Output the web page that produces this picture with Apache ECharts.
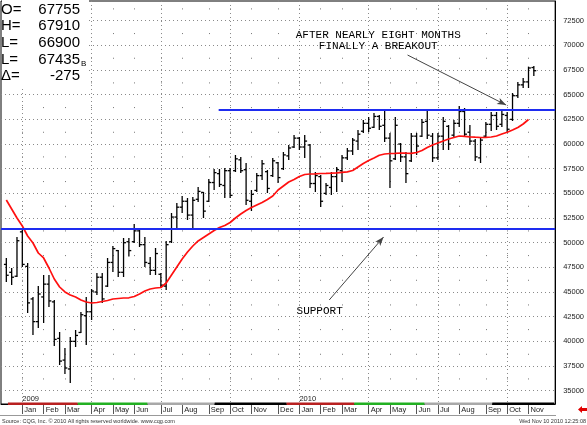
<!DOCTYPE html>
<html><head><meta charset="utf-8">
<script src="https://cdn.jsdelivr.net/npm/echarts@6/dist/echarts.min.js"></script>
<style>html,body{margin:0;padding:0;background:#fff}#c{width:587px;height:425px}</style>
</head><body><div id="c"></div>
<script>
// ---- data (weekly bars, first week starts Monday 2008-12-15) ----
const firstWeek = [2008, 11, 15];
const opens = [47800,47000,46600,51100,47600,44300,42000,44500,45800,44000,
 40300,38100,37200,40000,40900,42600,43000,45000,46500,45600,
 48000,49200,47000,50100,50100,51200,49800,47900,47200,46800,
 45600,50100,52600,53600,54200,52800,54400,55100,54200,56100,
 57000,55800,57300,57300,58400,57400,54200,55300,56800,57200,
 56800,58100,57500,58800,59700,60600,59700,59900,56000,56700,
 55000,55600,56700,57300,58600,59300,60300,61300,62100,61700,
 62800,61900,60600,58500,60000,58700,58300,60800,60800,62300,
 60800,58600,60800,61800,60900,62100,63300,61200,60300,58600,
 60800,62000,62900,62000,62900,62500,64900,66000,66300,67755];
const highs = [48450,47436,50578,51287,47943,44497,45612,46727,46727,44193,
 40950,39328,40443,41152,42977,44497,45308,46929,46929,48450,
 49666,49260,50477,50477,51896,51490,50578,48551,49463,46929,
 50173,53010,54024,54733,54531,54632,55646,55139,56456,57470,
 57470,57571,57571,58889,58686,58078,55341,57064,58382,57368,
 58585,58179,59193,59902,60916,60713,60916,60004,57166,56862,
 56051,57166,57673,58889,59598,60612,61422,62436,62740,63145,
 62943,63449,61118,62740,60105,59193,61118,61118,62537,63449,
 61118,61118,62740,61929,62436,63855,63652,61929,60510,60612,
 62233,63247,63247,63348,63247,65172,66287,66693,67850,67910];
const lows = [46017,45713,46524,47538,42875,40646,41355,41862,43484,39531,
 37605,36693,35781,39430,40848,39632,42166,44700,43889,45511,
 47031,46524,46524,48600,49970,49565,47538,46727,46727,45409,
 45206,49970,51490,53010,52301,51490,54125,52504,54125,55341,
 55646,54531,54531,57166,57064,53821,53213,55139,56355,55037,
 56659,56051,57368,58382,59598,59395,58585,55544,55139,53619,
 54835,54835,55139,56152,58382,58889,59395,61118,61220,61625,
 61422,60206,55544,58382,58179,56051,58179,58889,60713,60510,
 58179,58382,59395,59395,60713,61727,60713,59902,58281,58078,
 60713,61321,61422,61727,61220,62335,64666,65679,65679,66900];
const closes = [46700,46500,50200,47800,43900,42000,44800,45800,44100,40200,
 38000,37300,40000,40600,42700,43000,45100,46500,44300,48000,
 49400,47000,50000,49200,51200,49800,48000,47200,48900,45700,
 49800,52600,53600,54200,52800,54300,55200,53200,56100,57100,
 55900,57300,54800,58500,57300,54300,54900,56800,58000,55500,
 58300,56600,58900,59600,60600,59700,60300,56000,56800,54200,
 55800,56700,57400,58600,59300,60400,61000,62100,61600,62800,
 61800,60600,58300,61900,58700,57000,60800,59800,62200,60900,
 58600,60800,62300,60000,62100,63300,61000,60300,58700,60400,
 62000,62900,61800,63000,61500,64900,66000,66300,67710,67435];
const movingAvg = [54328,53416,52504,51693,50679,49970,48956,48450,47436,46321,
 45510,45004,44700,44497,44193,43991,43889,43940,44041,44142,
 44294,44345,44396,44416,44548,44801,45105,45308,45409,45460,
 45916,46727,47538,48348,49058,49666,50173,50527,50882,51237,
 51541,51744,52048,52504,52909,53264,53568,53822,54075,54379,
 54733,55341,55747,56152,56405,56709,56912,56963,56983,57013,
 57024,57044,57084,57135,57186,57318,57673,58027,58331,58585,
 58869,58990,59041,59061,59092,59071,59051,59142,59345,59649,
 59902,60105,60308,60511,60662,60814,60784,60733,60693,60662,
 60672,60713,60814,61017,61199,61422,61676,62031,62488,null];
const priceTicks = [35000,37500,40000,42500,45000,47500,50000,52500,55000,57500,60000,62500,65000,67500,70000,72500];
const monthNames = ['Jan','Feb','Mar','Apr','May','Jun','Jul','Aug','Sep','Oct','Nov','Dec'];
const supportLevel = 51460;
const resistanceLevel = 63520;
const resistanceFromWeek = 39.85;
const lastPriceLabel = 67440;
const contractBreaks = [0.3, 13.4, 26.5, 39.1, 52.6, 65.3, 78.5, 91.2, 102.8];
const noteBreakout = ['AFTER NEARLY EIGHT MONTHS\nFINALLY A BREAKOUT', 69.8, 70473];
const noteSupport = ['SUPPORT', 58.8, 43078];
const arrowBreakout = [[75.3, 69024], [93.8, 63956]];
const arrowSupport = [[60.6, 44193], [70.8, 50578]];

// ---- derived axis info ----
const weekDates = opens.map((_, i) => new Date(Date.UTC(firstWeek[0], firstWeek[1], firstWeek[2]) + i * 7 * 864e5));
const monthIdx = [], quarterIdx = [], yearIdx = [], monthLabel = {}, yearLabel = {};
weekDates.forEach((d, i) => {
  if (i > 0 && d.getUTCMonth() !== weekDates[i - 1].getUTCMonth()) {
    monthIdx.push(i); monthLabel[i] = monthNames[d.getUTCMonth()];
    if (d.getUTCMonth() % 3 === 0) quarterIdx.push(i);
    if (d.getUTCMonth() === 0) { yearIdx.push(i); yearLabel[i] = String(d.getUTCFullYear()); }
  }
});
const ohlc = opens.map((o, i) => [i, o, highs[i], lows[i], closes[i]]);
const maData = movingAvg.map((v, i) => [i, v]);
const lastMA = movingAvg.filter(v => v != null).slice(-1)[0];
const bandColors = ['#b82020', '#22b022', '#a8a8a8', '#000000'];
const bands = contractBreaks.slice(0, -1).map((s, k) => [s, contractBreaks[k + 1], k % 4]);

const FONT = 'Liberation Sans';
const chart = echarts.init(document.getElementById('c'));
const xBase = {type: 'value', min: -1, max: 103, position: 'bottom'};
chart.setOption({
  animation: false,
  backgroundColor: '#fff',
  grid: {left: 1, right: 31, top: 1, bottom: 21, show: true, borderColor: '#000', borderWidth: 1},
  xAxis: [
    Object.assign({}, xBase, {
      axisLine: {show: true, onZero: false, lineStyle: {color: '#000'}},
      axisTick: {show: true, customValues: monthIdx, length: 10, lineStyle: {color: '#555'}},
      axisLabel: {customValues: monthIdx, formatter: v => monthLabel[v] || '', align: 'left', margin: 2,
        padding: [0, 0, 0, 2], fontSize: 7.5, color: '#222', fontFamily: FONT},
      splitLine: {show: true, lineStyle: {color: '#777', type: [1, 23.67], dashOffset: 17.27}}
    }),
    Object.assign({}, xBase, {
      axisLine: {show: false, onZero: false},
      axisTick: {show: false, customValues: quarterIdx},
      axisLabel: {customValues: yearIdx, formatter: v => yearLabel[v] || '', inside: true, align: 'left', margin: 1,
        fontSize: 7.5, color: '#222', fontFamily: FONT},
      splitLine: {show: true, lineStyle: {color: '#8a8a8a', type: [1, 3]}}
    })
  ],
  yAxis: {
    type: 'value', position: 'right', min: 33650, max: 74500,
    axisLine: {show: true, onZero: false, lineStyle: {color: '#000'}},
    axisTick: {show: false, customValues: priceTicks},
    axisLabel: {customValues: priceTicks, formatter: v => String(v), color: '#222', fontSize: 7.5, margin: 8, fontFamily: FONT},
    splitLine: {show: true, lineStyle: {color: '#8a8a8a', type: [1, 3]}}
  },
  series: [
    {
      type: 'custom', name: 'bars', data: ohlc, encode: {x: 0, y: [1, 2, 3, 4]}, z: 3,
      renderItem: (params, api) => {
        const i = api.value(0);
        const h = api.coord([i, api.value(2)]), l = api.coord([i, api.value(3)]);
        const o = api.coord([i, api.value(1)]), c = api.coord([i, api.value(4)]);
        const x = h[0], st = {stroke: '#000', lineWidth: 1.3};
        return {type: 'group', children: [
          {type: 'line', shape: {x1: x, y1: h[1], x2: x, y2: l[1]}, style: st},
          {type: 'line', shape: {x1: x - 2.4, y1: o[1], x2: x, y2: o[1]}, style: st},
          {type: 'line', shape: {x1: x, y1: c[1], x2: x + 2.4, y2: c[1]}, style: st}
        ]};
      }
    },
    {
      type: 'line', name: 'ma', data: maData, showSymbol: false, z: 4,
      lineStyle: {color: '#ff1010', width: 1.7}, connectNulls: false,
      markLine: {
        silent: true, symbol: ['none', 'none'], label: {show: false},
        data: [
          [{coord: [-1, supportLevel], lineStyle: {color: '#1e2cf0', width: 2, type: 'solid'}}, {coord: [103, supportLevel]}],
          [{coord: [resistanceFromWeek, resistanceLevel], lineStyle: {color: '#1e2cf0', width: 2, type: 'solid'}}, {coord: [103, resistanceLevel]}],
          [{coord: arrowBreakout[0], symbol: 'none', lineStyle: {color: '#444', width: 1, type: 'solid'}}, {coord: arrowBreakout[1], symbol: 'arrow', symbolSize: [5, 9]}],
          [{coord: arrowSupport[0], symbol: 'none', lineStyle: {color: '#444', width: 1, type: 'solid'}}, {coord: arrowSupport[1], symbol: 'arrow', symbolSize: [5, 9]}],
          {yAxis: lastPriceLabel, lineStyle: {opacity: 0}, label: {show: true, position: 'end', distance: 1, formatter: String(lastPriceLabel),
            backgroundColor: '#000', color: '#fff', fontSize: 7.5, padding: [1, 3, 0, 3], fontFamily: FONT}},
          {yAxis: lastMA, lineStyle: {opacity: 0}, label: {show: true, position: 'end', distance: 1, formatter: String(lastMA),
            backgroundColor: '#ff0000', color: '#fff', fontSize: 7.5, padding: [1, 3, 0, 3], fontFamily: FONT}}
        ]
      },
      markPoint: {
        silent: true, symbol: 'circle', symbolSize: 1, itemStyle: {color: 'rgba(0,0,0,0)'},
        label: {show: true, position: 'inside', color: '#000', fontFamily: 'Liberation Mono', fontSize: 11, lineHeight: 11.5,
          formatter: p => p.name},
        data: [
          {name: noteBreakout[0], coord: [noteBreakout[1], noteBreakout[2]]},
          {name: noteSupport[0], coord: [noteSupport[1], noteSupport[2]]}
        ]
      }
    },
    {
      type: 'custom', name: 'contract', data: bands, encode: {x: [0, 1]}, z: 6, clip: false,
      renderItem: (params, api) => {
        const p1 = api.coord([api.value(0), 40000]), p2 = api.coord([api.value(1), 40000]);
        const yb = params.coordSys.y + params.coordSys.height;
        return {type: 'rect', shape: {x: p1[0], y: yb - 1.5, width: p2[0] - p1[0], height: 2.5},
          style: {fill: bandColors[api.value(2)]}};
      }
    }
  ],
  graphic: []
});

// info box and footer (non-data decorations)
const infoLabels = ['O=', 'H=', 'L=', 'L=', '\u0394='];
const infoValues = [opens[99], highs[99], lows[99], closes[99], closes[99] - closes[98]].map(String);
const g = [{type: 'rect', shape: {x: 2, y: 0, width: 87, height: 88}, style: {fill: '#fff'}, z: 100}];
infoLabels.forEach((t, k) => {
  const y = 9.5 + k * 16.7;
  g.push({type: 'text', x: 1, y: y, z: 101, style: {text: t, fill: '#000', font: '15px ' + FONT, textVerticalAlign: 'middle'}});
  g.push({type: 'text', x: 80, y: y, z: 101, style: {text: infoValues[k], fill: '#000', font: '15px ' + FONT, textAlign: 'right', textVerticalAlign: 'middle'}});
});
g.push({type: 'text', x: 81, y: 63.5, z: 101, style: {text: 'B', fill: '#000', font: '8px ' + FONT, textVerticalAlign: 'middle'}});
g.push({type: 'line', shape: {x1: 0, y1: 415.5, x2: 556, y2: 415.5}, style: {stroke: '#999', lineWidth: 1}, z: 50});
g.push({type: 'text', x: 2, y: 421, style: {text: 'Source: CQG, Inc. \u00a9 2010 All rights reserved worldwide. www.cqg.com', fill: '#333', font: '5.5px ' + FONT, textVerticalAlign: 'middle'}});
g.push({type: 'text', x: 586, y: 421, style: {text: 'Wed Nov 10 2010 12:25:08', fill: '#333', font: '5.5px ' + FONT, textAlign: 'right', textVerticalAlign: 'middle'}});
g.push({type: 'polygon', shape: {points: [[578, 409.5], [582, 406], [582, 408], [587, 408], [587, 411], [582, 411], [582, 413]]}, style: {fill: '#e00000'}});
chart.setOption({graphic: g});
</script>
</body></html>
